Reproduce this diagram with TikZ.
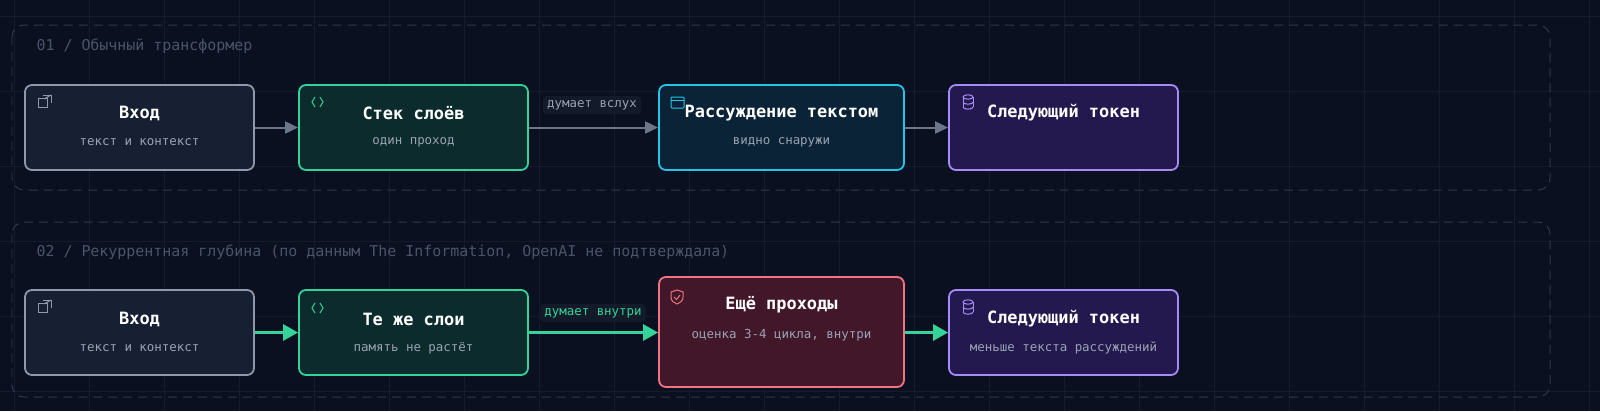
\documentclass[tikz,border=0pt]{standalone}
\usepackage{fontspec}
\setmainfont{DejaVu Sans Mono}
\usetikzlibrary{arrows.meta}
\definecolor{bg}{HTML}{0B1020}
\definecolor{gridc}{HTML}{151B2C}
\definecolor{grp}{HTML}{2E384C}
\definecolor{grpt}{HTML}{4A5468}
\definecolor{sub}{HTML}{9AA3B2}
\definecolor{slateD}{HTML}{8E99AB}
\definecolor{slateF}{HTML}{172033}
\definecolor{greenD}{HTML}{34D399}
\definecolor{greenF}{HTML}{0C2B2C}
\definecolor{cyanD}{HTML}{22C7E8}
\definecolor{cyanF}{HTML}{0B2336}
\definecolor{purD}{HTML}{A78BFA}
\definecolor{purF}{HTML}{24194F}
\definecolor{redD}{HTML}{F07482}
\definecolor{redF}{HTML}{42172A}
\definecolor{edge}{HTML}{6B7689}
\definecolor{lblbg}{HTML}{131A29}
\tikzset{
 box/.style={draw=#1D,fill=#1F,line width=1.8pt,rounded corners=7pt,inner sep=0pt},
 ttl/.style={text=white,font=\bfseries\fontsize{17}{19}\selectfont},
 sbt/.style={text=sub,font=\fontsize{12.5}{14}\selectfont},
 grpbox/.style={draw=grp,line width=1pt,dash pattern=on 9pt off 6pt,rounded corners=12pt},
 grplbl/.style={text=grpt,font=\fontsize{15}{17}\selectfont,anchor=west},
 e1/.style={draw=edge,line width=2pt,-{Triangle[length=13pt,width=12pt]}},
 e2/.style={draw=greenD,line width=3pt,-{Triangle[length=15pt,width=16pt]}},
}
\begin{document}
\begin{tikzpicture}[x=1bp,y=-1bp]
\fill[bg] (0,0) rectangle (1600,411);
\useasboundingbox (0,0) rectangle (1600,411);
\begin{scope}
\clip (0,0) rectangle (1600,411);
\foreach \i in {0,...,21} \draw[gridc,line width=0.6pt] (\i*75+14,0) -- (\i*75+14,411);
\foreach \j in {0,...,5} \draw[gridc,line width=0.6pt] (0,\j*75+16) -- (1600,\j*75+16);
\end{scope}
% groups
\draw[grpbox] (12,25) rectangle (1550,190);
\draw[grpbox] (12,222) rectangle (1550,397);
\coordinate (g1) at (12,25);
\node[grplbl] (g1l) at (33,46) {01 / Обычный трансформер};
\node[grplbl] (g2l) at (33,252) {02 / Рекуррентная глубина (по данным The Information, OpenAI не подтверждала)};
% row 1
\node[box=slate,minimum width=229bp,minimum height=85bp] (a1) at (139.5,127.5) {};
\node[box=green,minimum width=229bp,minimum height=85bp] (b1) at (413.5,127.5) {};
\node[box=cyan,minimum width=245bp,minimum height=85bp] (c1) at (781.5,127.5) {};
\node[box=pur,minimum width=229bp,minimum height=85bp] (d1) at (1063.5,127.5) {};
\node[ttl] (a1t) at (139.5,113) {Вход};
\node[sbt] (a1s) at (139.5,142) {текст и контекст};
\node[ttl] (b1t) at (413.5,113) {Стек слоёв};
\node[sbt] (b1s) at (413.5,142) {один проход};
\node[ttl] (c1t) at (781.5,113) {Рассуждение текстом};
\node[sbt] (c1s) at (781.5,142) {видно снаружи};
\node[ttl] (d1t) at (1063.5,113) {Следующий токен};
% row 2
\node[box=slate,minimum width=229bp,minimum height=85bp] (a2) at (139.5,332.5) {};
\node[box=green,minimum width=229bp,minimum height=85bp] (b2) at (413.5,332.5) {};
\node[box=red,minimum width=245bp,minimum height=110bp] (c2) at (781.5,332) {};
\node[box=pur,minimum width=229bp,minimum height=85bp] (d2) at (1063.5,332.5) {};
\node[ttl] (a2t) at (139.5,319) {Вход};
\node[sbt] (a2s) at (139.5,348) {текст и контекст};
\node[ttl] (b2t) at (413.5,319) {Те же слои};
\node[sbt] (b2s) at (413.5,348) {память не растёт};
\node[ttl] (c2t) at (781.5,305) {Ещё проходы};
\node[sbt] (c2s) at (781.5,335) {оценка 3-4 цикла, внутри};
\node[ttl] (d2t) at (1063.5,319) {Следующий токен};
\node[sbt] (d2s) at (1063.5,348) {меньше текста рассуждений};
% edges
\draw[e1] (a1) -- (b1);
\draw[e1] (b1) -- (c1);
\draw[e1] (c1) -- (d1);
\draw[e2] (a2) -- (b2);
\draw[e2] (b2) -- (c2.west |- b2);
\draw[e2] (c2.east |- d2) -- (d2);
\node[fill=lblbg,rounded corners=3pt,text=sub,font=\fontsize{12.5}{14}\selectfont,inner sep=4pt] (l1) at (592,105) {думает вслух};
\node[fill=lblbg,rounded corners=3pt,text=greenD,font=\fontsize{12.5}{14}\selectfont,inner sep=4pt] (l2) at (593,313) {думает внутри};
% icons
\begin{scope}[line width=1pt]
\foreach \y in {98,303}{
 \draw[slateD] (38,\y) rectangle (47,\y+9);
 \draw[slateD] (43,\y-3) -- (51,\y-3) -- (51,\y+5);
 \draw[slateD] (44,\y+1) -- (51,\y-3);}
\foreach \y in {102,308}{
 \draw[greenD] (315,\y-5) -- (312,\y) -- (315,\y+5);
 \draw[greenD] (320,\y-5) -- (323,\y) -- (320,\y+5);}
\draw[cyanD,rounded corners=1pt] (671,97) rectangle (684,108);
\draw[cyanD] (671,100.5) -- (684,100.5);
\draw[redD] (671,292) -- (677,290) -- (683,292) -- (683,297) .. controls (683,301) and (680,303) .. (677,304) .. controls (674,303) and (671,301) .. (671,297) -- cycle;
\draw[redD] (674,297) -- (676.5,299.5) -- (680,295);
\foreach \y in {97,302}{
 \draw[purD] (968,\y) ellipse (5bp and 2.2bp);
 \draw[purD] (963,\y) -- (963,\y+10) (973,\y) -- (973,\y+10);
 \draw[purD] (963,\y+5) arc[start angle=180,end angle=360,x radius=5bp,y radius=2.2bp];
 \draw[purD] (963,\y+10) arc[start angle=180,end angle=360,x radius=5bp,y radius=2.2bp];}
\end{scope}
\end{tikzpicture}
\end{document}
